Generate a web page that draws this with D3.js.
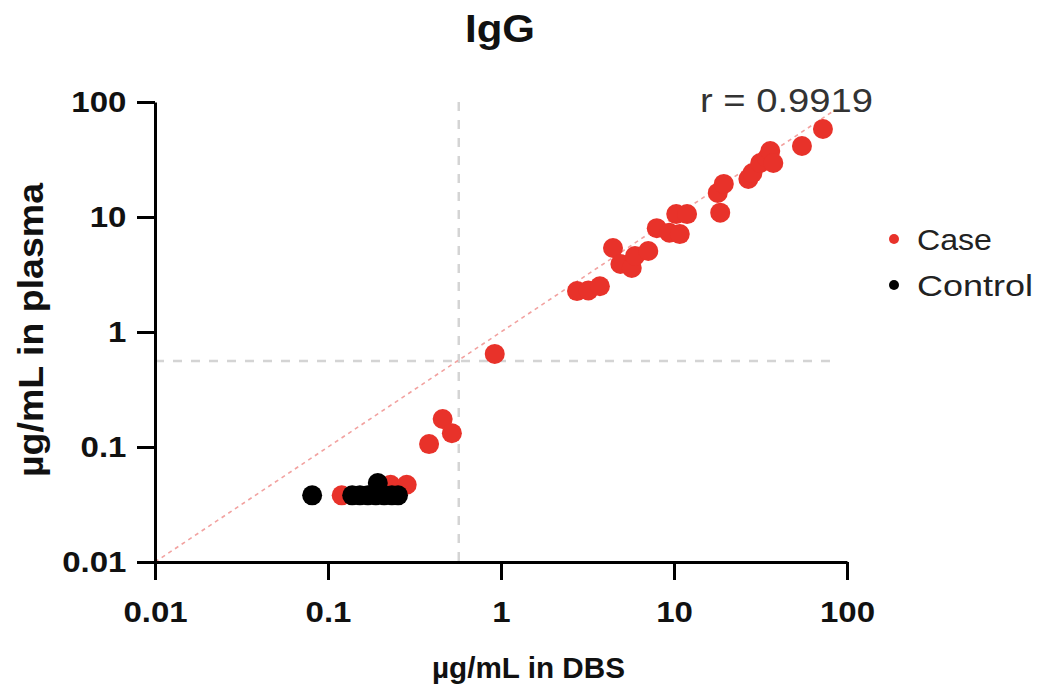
<!DOCTYPE html>
<html>
<head>
<meta charset="utf-8">
<script src="https://cdn.jsdelivr.net/npm/d3@7"></script>
<style>
  html, body { margin: 0; padding: 0; background: #fff; }
  svg { display: block; font-family: "Liberation Sans", Arial, sans-serif; }
</style>
</head>
<body>
<svg id="chart" width="1043" height="691"></svg>
<script>
// IgG concentration: dried blood spot (x) vs plasma (y), µg/mL
const caseDBS    = [0.12, 0.23, 0.285, 0.384, 0.46, 0.52, 0.92, 2.75, 3.2, 3.73, 4.44, 4.9, 5.7, 5.95, 7.1, 7.95, 9.4, 10.3, 10.8, 11.9, 17.9, 18.5, 19.4, 26.9, 28.4, 31.5, 34.5, 36, 37.5, 54.9, 72.6];
const casePlasma = [0.038, 0.047, 0.047, 0.106, 0.175, 0.132, 0.645, 2.27, 2.3, 2.5, 5.37, 3.9, 3.6, 4.58, 5.06, 8.0, 7.3, 10.6, 7.1, 10.6, 16.2, 10.9, 19.4, 21.4, 24.1, 29.5, 32.6, 37.5, 29.5, 41.4, 58.2];
const controlDBS    = [0.081, 0.138, 0.153, 0.17, 0.189, 0.211, 0.234, 0.254, 0.194];
const controlPlasma = [0.038, 0.038, 0.038, 0.038, 0.038, 0.038, 0.038, 0.038, 0.0486];

const tickValues = [0.01, 0.1, 1, 10, 100];
const tickLabels = ["0.01", "0.1", "1", "10", "100"];
const cutoffDBS = 0.57;
const cutoffPlasma = 0.56;
const identityEnd = 85;
const seriesNames = ["Case", "Control"];
const seriesColors = ["#e8322a", "#000000"];
const correlationLabel = "r = 0.9919";

const svg = d3.select("#chart");

const x = d3.scaleLog().domain([0.01, 100]).range([155, 847]);
const y = d3.scaleLog().domain([0.01, 100]).range([562, 102]);

// Reference lines: positivity cut-offs and identity line
svg.append("line")
  .attr("x1", x(cutoffDBS)).attr("x2", x(cutoffDBS))
  .attr("y1", y(100)).attr("y2", y(0.01))
  .attr("stroke", "#d4d4d4").attr("stroke-width", 2.5).attr("stroke-dasharray", "9,9");
svg.append("line")
  .attr("x1", x(0.01)).attr("x2", x(identityEnd))
  .attr("y1", y(cutoffPlasma)).attr("y2", y(cutoffPlasma))
  .attr("stroke", "#d4d4d4").attr("stroke-width", 2.5).attr("stroke-dasharray", "9,9");
svg.append("line")
  .attr("x1", x(0.01)).attr("y1", y(0.01))
  .attr("x2", x(identityEnd)).attr("y2", y(identityEnd))
  .attr("stroke", "#f2a2a0").attr("stroke-width", 1.6).attr("stroke-dasharray", "4,4");

// Axes
const xAxis = d3.axisBottom(x).tickValues(tickValues)
  .tickFormat((d, i) => tickLabels[i]).tickSize(18).tickSizeOuter(0).tickPadding(21);
const yAxis = d3.axisLeft(y).tickValues(tickValues)
  .tickFormat((d, i) => tickLabels[i]).tickSize(18).tickSizeOuter(0).tickPadding(8);

function styleAxis(g) {
  g.select(".domain").attr("stroke", "#000").attr("stroke-width", 3);
  g.selectAll(".tick line").attr("stroke", "#000").attr("stroke-width", 3);
  g.selectAll(".tick text")
    .attr("fill", "#111")
    .style("font-size", "30px")
    .style("font-weight", "bold")
    .style("font-family", "'Liberation Sans', Arial, sans-serif")
    .attr("transform", "scale(1.1,1)");
}

svg.append("g").attr("transform", `translate(0,${y(0.01)})`).call(xAxis).call(styleAxis);
svg.append("g").attr("transform", `translate(${x(0.01)},0)`).call(yAxis).call(styleAxis);

// Points: cases underneath, controls on top
const r = 10;
svg.append("g").selectAll("circle")
  .data(caseDBS.map((d, i) => [d, casePlasma[i]]))
  .join("circle")
  .attr("cx", d => x(d[0])).attr("cy", d => y(d[1])).attr("r", r)
  .attr("fill", seriesColors[0]);
svg.append("g").selectAll("circle")
  .data(controlDBS.map((d, i) => [d, controlPlasma[i]]))
  .join("circle")
  .attr("cx", d => x(d[0])).attr("cy", d => y(d[1])).attr("r", r)
  .attr("fill", seriesColors[1]);

// Text
svg.append("text")
  .attr("x", 465).attr("y", 42)
  .attr("textLength", 70).attr("lengthAdjust", "spacingAndGlyphs")
  .style("font-size", "38px").style("font-weight", "bold").attr("fill", "#111")
  .text("IgG");

svg.append("text")
  .attr("x", 432).attr("y", 678)
  .attr("textLength", 193).attr("lengthAdjust", "spacingAndGlyphs")
  .style("font-size", "30px").style("font-weight", "bold").attr("fill", "#111")
  .text("µg/mL in DBS");

svg.append("text")
  .attr("transform", "translate(43,477) rotate(-90)")
  .attr("x", 0).attr("y", 0)
  .attr("textLength", 294).attr("lengthAdjust", "spacingAndGlyphs")
  .style("font-size", "35px").style("font-weight", "bold").attr("fill", "#111")
  .text("µg/mL in plasma");

svg.append("text")
  .attr("x", 700).attr("y", 112)
  .attr("textLength", 173).attr("lengthAdjust", "spacingAndGlyphs")
  .style("font-size", "33px").attr("fill", "#333")
  .text(correlationLabel);

// Legend
const legendY = [239, 285];
const legend = svg.append("g");
seriesNames.forEach((name, i) => {
  legend.append("circle").attr("cx", 894).attr("cy", legendY[i]).attr("r", 5).attr("fill", seriesColors[i]);
  legend.append("text")
    .attr("x", 917).attr("y", legendY[i] + 11)
    .attr("textLength", i === 0 ? 75 : 116).attr("lengthAdjust", "spacingAndGlyphs")
    .style("font-size", "30px").attr("fill", "#222")
    .text(name);
});
</script>
</body>
</html>
